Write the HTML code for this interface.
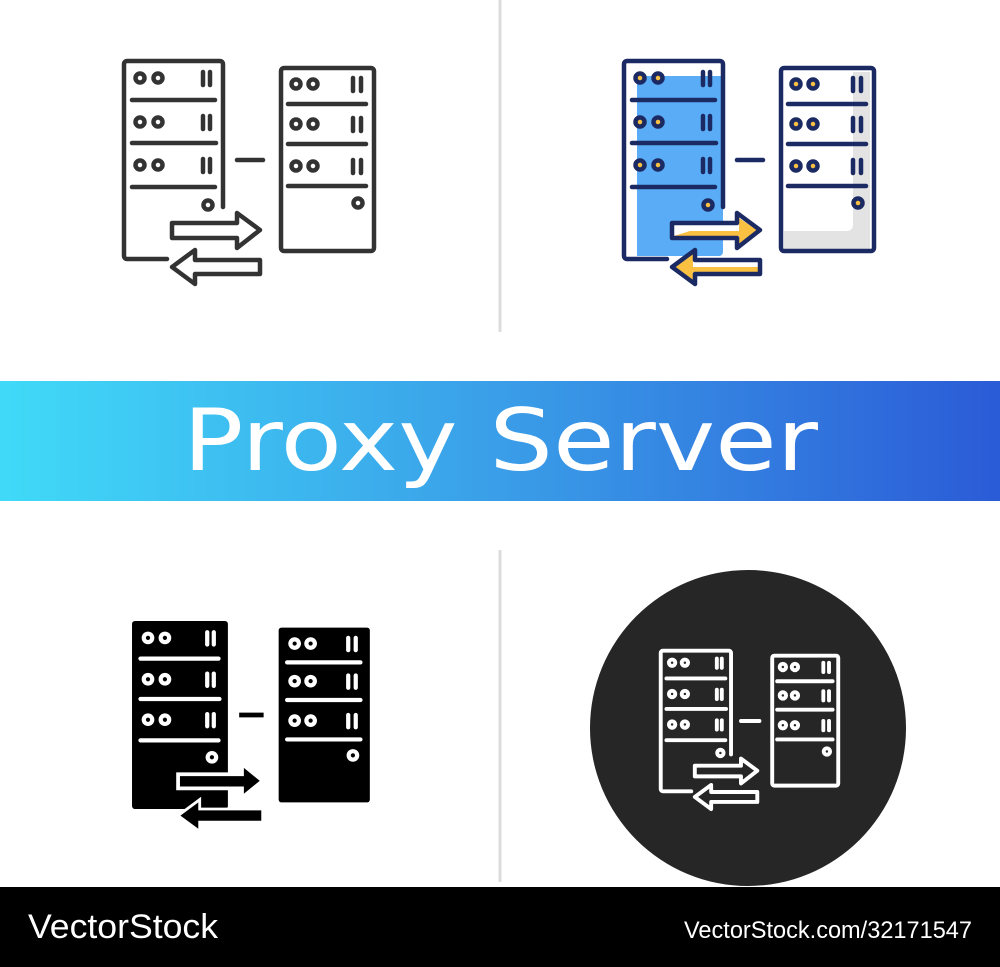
<!DOCTYPE html>
<html><head><meta charset="utf-8"><style>
html,body{margin:0;padding:0;background:#fff;}
svg{display:block}
</style></head><body>
<svg width="1000" height="967" viewBox="0 0 1000 967" xmlns="http://www.w3.org/2000/svg">
<defs>
<linearGradient id="bn" x1="0" x2="1" y1="0" y2="0">
<stop offset="0" stop-color="#40daf8"/><stop offset="0.5" stop-color="#3a9ee8"/><stop offset="1" stop-color="#2b5bd7"/>
</linearGradient>
<g id="ol" fill="none" stroke-linecap="round" stroke-linejoin="round">
<path d="M167 259 H127 a3 3 0 0 1 -3 -3 V64 a3 3 0 0 1 3 -3 H220 a3 3 0 0 1 3 3 V207"/>
<circle cx="140" cy="78" r="4.5"/><circle cx="158" cy="78" r="4.5"/>
<line x1="203" y1="72" x2="203" y2="85"/><line x1="210" y1="72" x2="210" y2="85"/>
<line x1="132" y1="100" x2="215" y2="100"/>
<circle cx="140" cy="122" r="4.5"/><circle cx="158" cy="122" r="4.5"/>
<line x1="203" y1="116" x2="203" y2="129"/><line x1="210" y1="116" x2="210" y2="129"/>
<line x1="132" y1="143" x2="216" y2="143"/>
<circle cx="140" cy="165" r="4.5"/><circle cx="158" cy="165" r="4.5"/>
<line x1="203" y1="159" x2="203" y2="172"/><line x1="210" y1="159" x2="210" y2="172"/>
<line x1="132" y1="187" x2="215" y2="187"/>
<circle cx="208" cy="205" r="4.5"/>
<line x1="237" y1="160" x2="263" y2="160"/>
<rect x="281" y="68" width="93" height="183" rx="3"/>
<circle cx="296" cy="84" r="4.5"/><circle cx="313" cy="84" r="4.5"/>
<line x1="353" y1="78" x2="353" y2="91"/><line x1="361" y1="78" x2="361" y2="91"/>
<line x1="288" y1="104" x2="366" y2="104"/>
<circle cx="296" cy="124" r="4.5"/><circle cx="313" cy="124" r="4.5"/>
<line x1="353" y1="118" x2="353" y2="131"/><line x1="361" y1="118" x2="361" y2="131"/>
<line x1="288" y1="144" x2="366" y2="144"/>
<circle cx="296" cy="166" r="4.5"/><circle cx="313" cy="166" r="4.5"/>
<line x1="353" y1="160" x2="353" y2="173"/><line x1="361" y1="160" x2="361" y2="173"/>
<line x1="288" y1="186" x2="366" y2="186"/>
<circle cx="358" cy="203" r="4.5"/>
<path d="M172 223 H237 V213 L260 230 L237 248 V238 H172 Z"/>
<path d="M260 260 H195 V250 L172 267 L195 284 V274 H260 Z"/>
</g>
</defs>
<rect width="1000" height="967" fill="#fff"/>
<line x1="500" y1="0" x2="500" y2="332" stroke="#dcdcdc" stroke-width="3"/>
<line x1="500" y1="550" x2="500" y2="882" stroke="#dcdcdc" stroke-width="3"/>

<!-- Outline icon (top-left) -->
<use href="#ol" stroke="#333" stroke-width="4.5"/>

<!-- Color icon (top-right) -->
<g transform="translate(500,0)">
<path d="M137 76 H223 V252 a4 4 0 0 1 -4 4 H137 Z" fill="#5aacf7"/>
<path d="M353 72 H370 V250 H284 V231 H347 a6 6 0 0 0 6 -6 Z" fill="#e3e3e3"/>
<path d="M174 225 H239 V236 H174 Z" fill="#fff"/>
<path d="M190 231 H239 V236 H174 Z M239 218 L257 230 L239 244 Z" fill="#f9c042"/>
<path d="M193 262 H258 V272 H193 Z" fill="#fff"/>
<path d="M193 267 H258 V272 H193 Z M193 254 L175 267 L193 280 Z" fill="#f9c042"/>
<g fill="#f9c042">
<circle cx="140" cy="78" r="3"/><circle cx="158" cy="78" r="3"/>
<circle cx="140" cy="122" r="3"/><circle cx="158" cy="122" r="3"/>
<circle cx="140" cy="165" r="3"/><circle cx="158" cy="165" r="3"/>
<circle cx="208" cy="205" r="3"/>
<circle cx="296" cy="84" r="3"/><circle cx="313" cy="84" r="3"/>
<circle cx="296" cy="124" r="3"/><circle cx="313" cy="124" r="3"/>
<circle cx="296" cy="166" r="3"/><circle cx="313" cy="166" r="3"/>
<circle cx="358" cy="203" r="3"/>
</g>
<use href="#ol" stroke="#1c2a64" stroke-width="4.5"/>
</g>

<!-- Banner -->
<rect x="0" y="381" width="1000" height="120" fill="url(#bn)"/>
<text x="183" y="470" font-family="'DejaVu Sans','Liberation Sans',sans-serif" font-size="86" fill="#fff" textLength="635" lengthAdjust="spacingAndGlyphs">Proxy Server</text>

<!-- Solid icon (bottom-left) -->
<g transform="translate(16.4,564.6) scale(0.94)">
<rect x="123" y="60" width="102" height="200" rx="3" fill="#000"/>
<rect x="279" y="67" width="97" height="186" rx="3" fill="#000"/>
<g fill="none" stroke="#fff" stroke-width="4.5" stroke-linecap="round">
<circle cx="140" cy="78" r="4.5"/><circle cx="158" cy="78" r="4.5"/>
<line x1="203" y1="72" x2="203" y2="85"/><line x1="210" y1="72" x2="210" y2="85"/>
<line x1="132" y1="100" x2="215" y2="100"/>
<circle cx="140" cy="122" r="4.5"/><circle cx="158" cy="122" r="4.5"/>
<line x1="203" y1="116" x2="203" y2="129"/><line x1="210" y1="116" x2="210" y2="129"/>
<line x1="132" y1="143" x2="216" y2="143"/>
<circle cx="140" cy="165" r="4.5"/><circle cx="158" cy="165" r="4.5"/>
<line x1="203" y1="159" x2="203" y2="172"/><line x1="210" y1="159" x2="210" y2="172"/>
<line x1="132" y1="187" x2="215" y2="187"/>
<circle cx="208" cy="205" r="4.5"/>
<circle cx="296" cy="84" r="4.5"/><circle cx="313" cy="84" r="4.5"/>
<line x1="353" y1="78" x2="353" y2="91"/><line x1="361" y1="78" x2="361" y2="91"/>
<line x1="288" y1="104" x2="366" y2="104"/>
<circle cx="296" cy="124" r="4.5"/><circle cx="313" cy="124" r="4.5"/>
<line x1="353" y1="118" x2="353" y2="131"/><line x1="361" y1="118" x2="361" y2="131"/>
<line x1="288" y1="144" x2="366" y2="144"/>
<circle cx="296" cy="166" r="4.5"/><circle cx="313" cy="166" r="4.5"/>
<line x1="353" y1="160" x2="353" y2="173"/><line x1="361" y1="160" x2="361" y2="173"/>
<line x1="288" y1="186" x2="366" y2="186"/>
<circle cx="358" cy="203" r="4.5"/>
</g>
<line x1="237" y1="160" x2="263" y2="160" stroke="#000" stroke-width="5"/>
<path d="M172 223 H240 V212 L262 230 L240 248 V238 H172 Z" fill="#000" stroke="#fff" stroke-width="4"/>
<path d="M262 260 H195 V250 L172 267 L195 284 V274 H262 Z" fill="#000" stroke="#fff" stroke-width="3"/>
</g>

<!-- Chalk icon (bottom-right) -->
<circle cx="748" cy="728" r="158" fill="#262626"/>
<g transform="translate(572.7,607.4) scale(0.71)">
<use href="#ol" stroke="#fff" stroke-width="5.5"/>
</g>

<!-- Footer -->
<rect x="0" y="887" width="1000" height="80" fill="#000"/>
<text x="28" y="938" font-family="'Liberation Sans',sans-serif" font-size="34" fill="#fff" textLength="190" lengthAdjust="spacingAndGlyphs">VectorStock</text>
<text x="684" y="938" font-family="'Liberation Sans',sans-serif" font-size="24" fill="#fff" textLength="288" lengthAdjust="spacingAndGlyphs">VectorStock.com/32171547</text>
</svg>
</body></html>
